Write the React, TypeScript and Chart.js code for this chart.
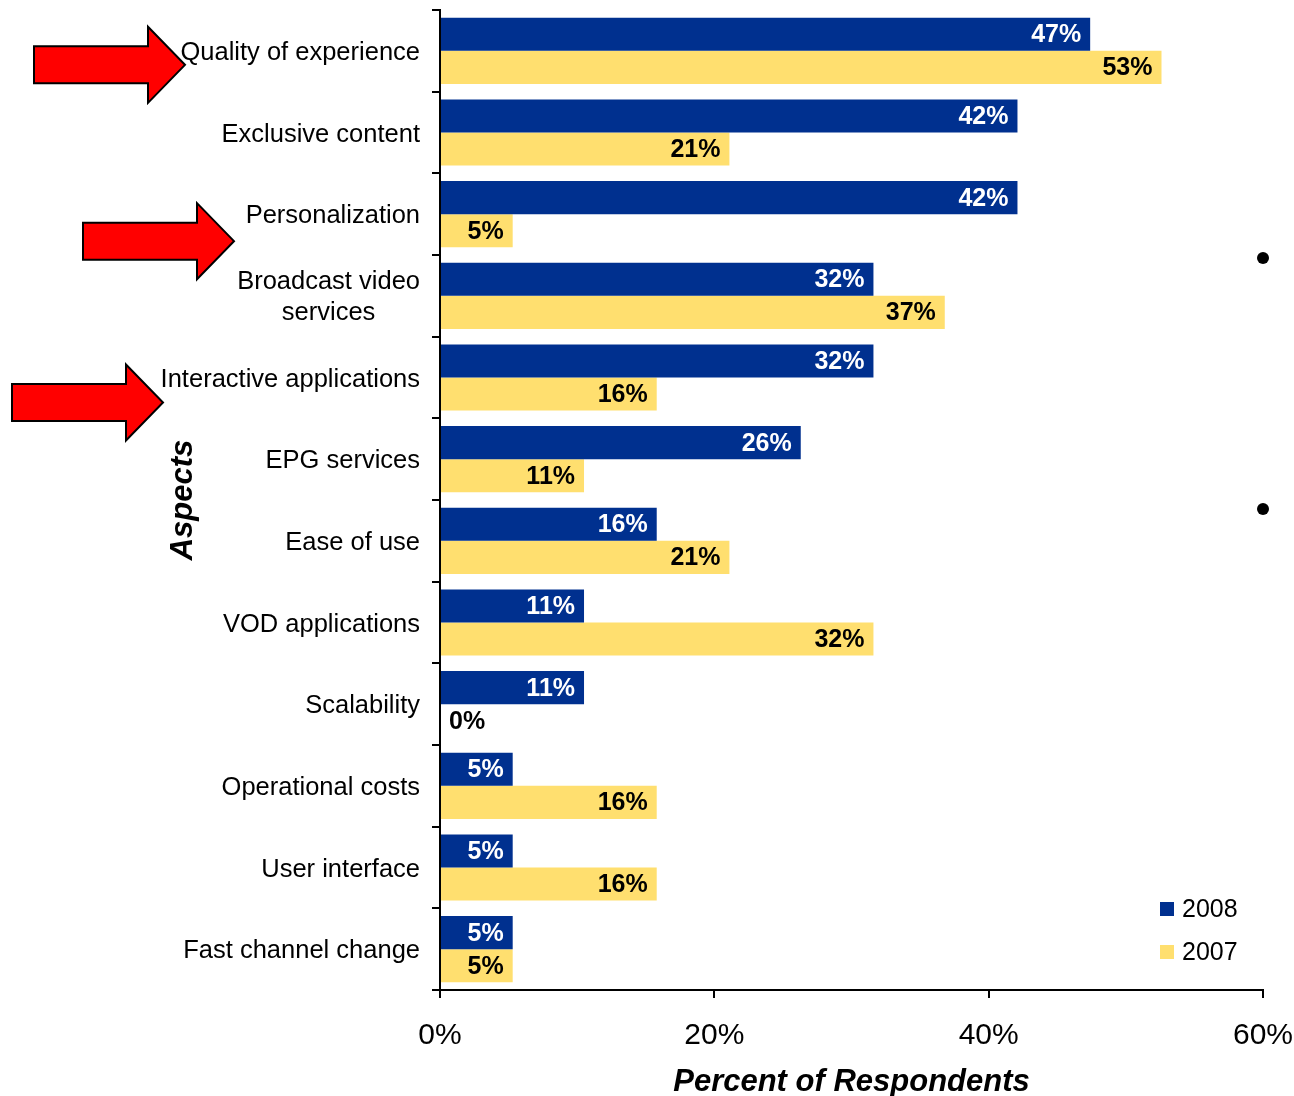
import React, { useEffect, useRef } from 'react';
import { Chart, registerables } from 'chart.js';

Chart.register(...registerables);

const categories: (string | string[])[] = [
  'Quality of experience',
  'Exclusive content',
  'Personalization',
  ['Broadcast video', 'services'],
  'Interactive applications',
  'EPG services',
  'Ease of use',
  'VOD applications',
  'Scalability',
  'Operational costs',
  'User interface',
  'Fast channel change',
];

const values2008 = [47.4, 42.1, 42.1, 31.6, 31.6, 26.3, 15.8, 10.5, 10.5, 5.3, 5.3, 5.3];
const values2007 = [52.6, 21.1, 5.3, 36.8, 15.8, 10.5, 21.1, 31.6, 0, 15.8, 15.8, 5.3];
const seriesLabels = ['2008', '2007'];
const xTickValues = [0, 20, 40, 60];

// category indices marked with red arrows (decoration)
const arrowCategories = [0, 2, 4];

const FONT = '"Liberation Sans", Arial, Helvetica, sans-serif';
const NAVY = '#00308F';
const YELLOW = '#FFDF6F';

const yLabelPlugin = {
  id: 'yLabelPlugin',
  afterDraw(chart: any) {
    const { ctx, chartArea, scales } = chart;
    const y = scales.y;
    ctx.save();
    ctx.font = `25.5px ${FONT}`;
    ctx.fillStyle = '#000';
    ctx.textBaseline = 'middle';
    ctx.textAlign = 'center';
    const right = chartArea.left - 20;
    const lh = 31;
    categories.forEach((lab, i) => {
      const lines = Array.isArray(lab) ? lab : [lab];
      const w = Math.max(...lines.map((l) => ctx.measureText(l).width));
      const cx = right - w / 2;
      const cy = y.getPixelForValue(i) + 2;
      lines.forEach((l, j) => ctx.fillText(l, cx, cy + (j - (lines.length - 1) / 2) * lh));
    });
    ctx.restore();
  },
};

const arrowPlugin = {
  id: 'arrowPlugin',
  afterDraw(chart: any) {
    const { ctx, scales, chartArea } = chart;
    const y = scales.y;
    const specs = [
      { tipX: 185, dy: 14 },
      { tipX: 234, dy: 27 },
      { tipX: 163, dy: 25 },
    ];
    ctx.save();
    arrowCategories.forEach((c, k) => {
      const s = specs[k];
      const ty = y.getPixelForValue(c) + s.dy;
      const tx = s.tipX;
      const headLen = 37;
      const bodyLen = 114;
      const bh = 18.5;
      const hh = 38;
      ctx.beginPath();
      ctx.moveTo(tx - headLen - bodyLen, ty - bh);
      ctx.lineTo(tx - headLen, ty - bh);
      ctx.lineTo(tx - headLen, ty - hh);
      ctx.lineTo(tx, ty);
      ctx.lineTo(tx - headLen, ty + hh);
      ctx.lineTo(tx - headLen, ty + bh);
      ctx.lineTo(tx - headLen - bodyLen, ty + bh);
      ctx.closePath();
      ctx.fillStyle = '#FF0000';
      ctx.fill();
      ctx.lineWidth = 2;
      ctx.strokeStyle = '#000';
      ctx.lineJoin = 'miter';
      ctx.stroke();
    });
    // two stray bullet dots at the right edge
    ctx.fillStyle = '#000';
    [258, 509].forEach((dy) => {
      ctx.beginPath();
      ctx.arc(chartArea.right, dy, 6, 0, Math.PI * 2);
      ctx.fill();
    });
    ctx.restore();
  },
};

const valueLabelPlugin = {
  id: 'valueLabelPlugin',
  afterDatasetsDraw(chart: any) {
    const { ctx } = chart;
    ctx.save();
    ctx.font = `bold 25px ${FONT}`;
    ctx.textBaseline = 'middle';
    chart.data.datasets.forEach((ds: any, di: number) => {
      const meta = chart.getDatasetMeta(di);
      meta.data.forEach((bar: any, i: number) => {
        const v = ds.data[i] as number;
        const txt = Math.round(v) + '%';
        const { x, y, base } = bar.getProps(['x', 'y', 'base'], true);
        if (v > 0) {
          ctx.fillStyle = di === 0 ? '#FFFFFF' : '#000000';
          ctx.textAlign = 'right';
          ctx.fillText(txt, x - 9, y + 1);
        } else {
          ctx.fillStyle = '#000000';
          ctx.textAlign = 'left';
          ctx.fillText(txt, base + 9, y + 1);
        }
      });
    });
    ctx.restore();
  },
};

const legendPlugin = {
  id: 'customLegend',
  afterDraw(chart: any) {
    const { ctx, chartArea } = chart;
    ctx.save();
    ctx.font = `25px ${FONT}`;
    ctx.textBaseline = 'middle';
    ctx.textAlign = 'left';
    chart.data.datasets.forEach((ds: any, i: number) => {
      const cy = chartArea.bottom - 81 + i * 43;
      const sx = chartArea.right - 103;
      ctx.fillStyle = ds.backgroundColor;
      ctx.fillRect(sx, cy - 7, 14, 14);
      ctx.fillStyle = '#000';
      ctx.fillText(ds.label, sx + 22, cy + 1);
    });
    ctx.restore();
  },
};

export default function App() {
  const canvasRef = useRef<HTMLCanvasElement | null>(null);

  useEffect(() => {
    document.body.style.margin = '0';
    const canvas = canvasRef.current;
    if (!canvas) return;
    const chart = new Chart(canvas, {
      type: 'bar',
      data: {
        labels: categories as any,
        datasets: [
          {
            label: seriesLabels[0],
            data: values2008,
            backgroundColor: NAVY,
            categoryPercentage: 0.81,
            barPercentage: 1,
          },
          {
            label: seriesLabels[1],
            data: values2007,
            backgroundColor: YELLOW,
            categoryPercentage: 0.81,
            barPercentage: 1,
          },
        ],
      },
      options: {
        indexAxis: 'y',
        animation: false,
        responsive: true,
        maintainAspectRatio: false,
        layout: { padding: { top: 10, right: 31, bottom: 0, left: 0 } },
        plugins: {
          legend: { display: false },
          tooltip: { enabled: false },
        },
        scales: {
          x: {
            type: 'linear',
            min: 0,
            max: 60,
            afterBuildTicks: (scale: any) => {
              scale.ticks = xTickValues.map((v) => ({ value: v }));
            },
            ticks: {
              callback: (v: any) => v + '%',
              color: '#000',
              font: { family: FONT, size: 30 },
              padding: 20,
              maxRotation: 0,
            },
            grid: {
              drawOnChartArea: false,
              drawTicks: true,
              tickLength: 8,
              color: '#000',
              lineWidth: 2,
            },
            border: { display: true, color: '#000', width: 2 },
            title: {
              display: true,
              text: 'Percent of Respondents',
              color: '#000',
              font: { family: FONT, size: 31, weight: 'bold', style: 'italic', lineHeight: 1 },
              padding: { top: 0, bottom: -2 },
            },
            afterFit: (scale: any) => {
              scale.height = 106;
              scale.paddingLeft = 0;
              scale.paddingRight = 0;
            },
          },
          y: {
            type: 'category',
            ticks: { display: false },
            grid: {
              offset: true,
              drawOnChartArea: false,
              drawTicks: true,
              tickLength: 8,
              color: '#000',
              lineWidth: 2,
            },
            border: { display: true, color: '#000', width: 2 },
            title: {
              display: true,
              text: 'Aspects',
              color: '#000',
              font: { family: FONT, size: 31, weight: 'bold', style: 'italic', lineHeight: 1 },
              padding: { top: 168, bottom: 0 },
            },
            afterFit: (scale: any) => {
              scale.width = 440;
              scale.paddingTop = 0;
              scale.paddingBottom = 0;
            },
          },
        },
      } as any,
      plugins: [valueLabelPlugin, yLabelPlugin, arrowPlugin, legendPlugin],
    });
    return () => chart.destroy();
  }, []);

  return (
    <div style={{ position: 'relative', width: '1294px', height: '1096px' }}>
      <canvas ref={canvasRef} />
    </div>
  );
}
